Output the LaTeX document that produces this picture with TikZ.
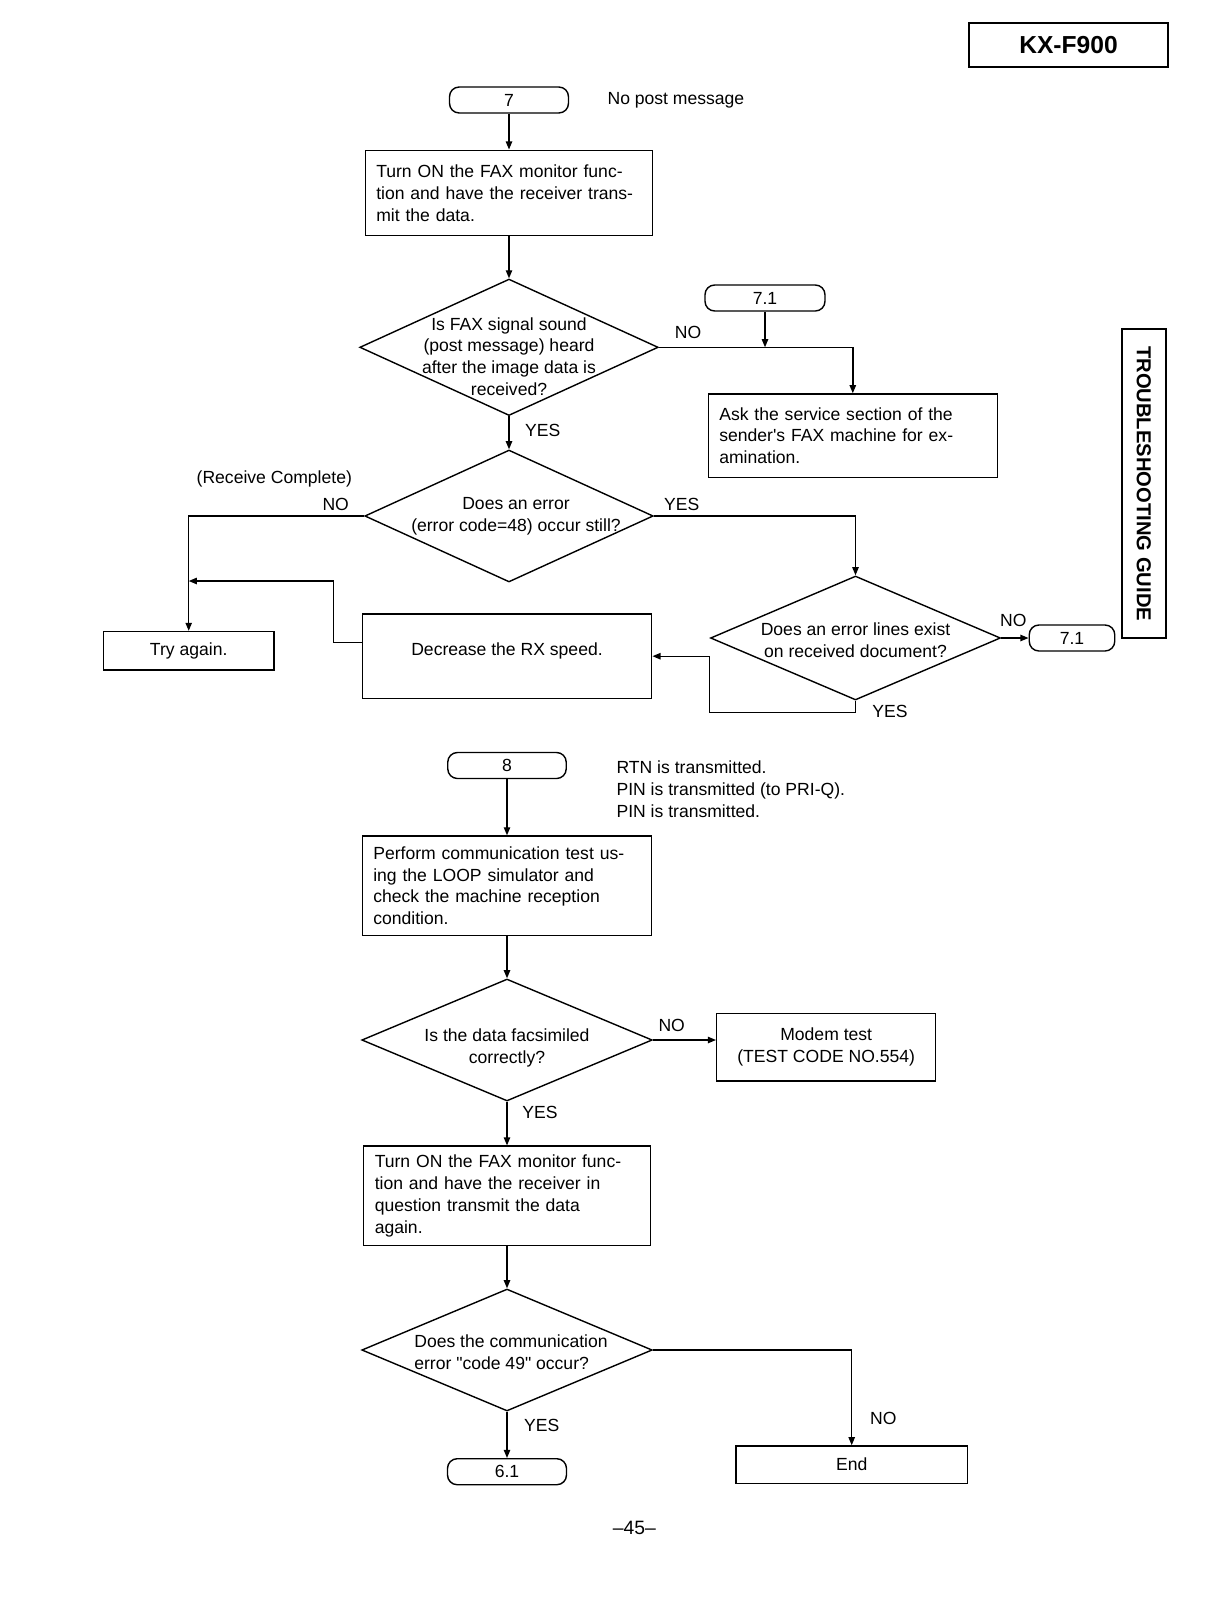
\documentclass[tikz,border=0pt]{standalone}
\usepackage{fontspec}
\setmainfont{Liberation Sans}
\usepackage{tikz}
\usetikzlibrary{calc,shapes.geometric,arrows.meta}

\newcommand{\dtext}[3][2.5pt]{\makebox[0pt]{\hspace{#2}\raisebox{-#1}[0pt][0pt]{\begin{tabular}{@{}c@{}}#3\end{tabular}}}}
\newcommand{\ltext}[3][2.5pt]{\makebox[0pt]{\hspace{#2}\raisebox{-#1}[0pt][0pt]{\begin{tabular}{@{}l@{}}#3\end{tabular}}}}

\begin{document}
\begin{tikzpicture}[x=0.02cm,y=-0.02cm,line width=0.8pt,
    every node/.style={font=\fontsize{10}{12.4}\selectfont},
    >={Triangle[length=4.6pt,width=3.6pt]},
    term/.style={draw,rounded corners=5.5pt,minimum height=0.52cm,inner sep=0pt},
    proc/.style={draw,align=left,inner xsep=0.22cm,inner ysep=0pt},
    plain/.style={draw,align=center,inner sep=0pt},
    decision/.style={draw,diamond,inner sep=0pt}]
  \useasboundingbox (0,0) rectangle (1216,1612);
  \fill[white] (0,0) rectangle (1216,1612);

  \node[draw,line width=1pt,minimum width=3.97cm,minimum height=0.88cm,
    font=\bfseries\fontsize{14}{16}\selectfont] (model) at (1068.5,44.7) {KX-F900};
  \node[draw,line width=1pt,rotate=-90,minimum width=6.19cm,minimum height=0.88cm,
    font=\bfseries\fontsize{11.5}{13}\selectfont] (guide) at (1143.7,483.6) {TROUBLESHOOTING GUIDE};

  \node[term,minimum width=2.38cm] (t7) at (509,100) {7};
  \node[anchor=west] (nopost) at (601,100) {No post message};
  \node[proc,text width=5.31cm,minimum height=1.71cm] (b1) at (509,193)
    {Turn ON the FAX monitor func-\\tion and have the receiver trans-\\mit the data.};
  \node[decision,minimum width=5.97cm,minimum height=2.73cm] (d1) at (509,347.3)
    {\dtext[8.8pt]{0pt}{Is FAX signal sound\\(post message) heard\\after the image data is\\received?}};
  \node[term,minimum width=2.4cm] (t71a) at (765,298) {7.1};
  \node[proc,text width=5.34cm,minimum height=1.67cm] (ask) at (852.8,435.7)
    {Ask the service section of the\\sender\textquotesingle s FAX machine for ex-\\amination.};
  \node[decision,minimum width=5.77cm,minimum height=2.64cm] (d2) at (509,516)
    {\dtext{0.28cm}{Does an error\\(error code=48) occur still?}};
  \node (rc) at (274.3,479) {(Receive Complete)};
  \node[plain,minimum width=3.41cm,minimum height=0.77cm] (try) at (188.7,650.8) {Try again.};
  \node[plain,minimum width=5.79cm,minimum height=1.69cm,text depth=7.5pt] (dec) at (507,656.2)
    {Decrease the RX speed.};
  \node[decision,minimum width=5.8cm,minimum height=2.48cm] (d3) at (855.5,638)
    {\dtext[4.8pt]{0pt}{Does an error lines exist\\on received document?}};
  \node[term,minimum width=1.71cm] (t71b) at (1072,638) {7.1};

  \draw[->] (t7) -- (b1);
  \draw[->] (b1) -- (d1);
  \draw[->] (d1.east) -| (ask.north);
  \coordinate (j1) at (t71a.south |- d1.east);
  \draw[->] (t71a) -- (j1);
  \node (no1) at (688,332) {NO};
  \draw[->] (d1) -- (d2);
  \node (yes1) at (542.7,430.7) {YES};
  \draw[->] (d2.west) -| (try.north);
  \node (no2) at (335.7,504.3) {NO};
  \coordinate (j2) at (try.north |- 0,581);
  \draw[->] ($(dec.west)+(0,-14)$) -- ++(-28,0) |- (j2);
  \draw[->] (d2.east) -| (d3.north);
  \node (yes2) at (681.7,504.3) {YES};
  \draw[->] (d3.east) -- (t71b.west);
  \node (no3) at (1013.3,620) {NO};
  \draw[->] (d3.south) -- ++(0,12) -| ($(dec.east)+(57,0)$) -- (dec.east);
  \node (yes3) at (890,711.7) {YES};

  \node[term,minimum width=2.37cm] (t8) at (507,765.5) {8};
  \node[anchor=west,align=left] (rtn) at (610,789.4)
    {RTN is transmitted.\\PIN is transmitted (to PRI-Q).\\PIN is transmitted.};
  \node[proc,text width=5.35cm,minimum height=1.99cm] (b4) at (507,885.8)
    {Perform communication test us-\\ing the LOOP simulator and\\check the machine reception\\condition.};
  \node[decision,minimum width=5.81cm,minimum height=2.44cm] (d4) at (507,1040)
    {\dtext[7.2pt]{0pt}{Is the data facsimiled\\correctly?}};
  \node[plain,minimum width=4.38cm,minimum height=1.35cm] (modem) at (826.2,1047.2)
    {Modem test\\(TEST CODE NO.554)};
  \node[proc,text width=5.29cm,minimum height=1.99cm] (b5) at (507,1195.9)
    {Turn ON the FAX monitor func-\\tion and have the receiver in\\question transmit the data\\again.};
  \node[decision,minimum width=5.81cm,minimum height=2.44cm] (d5) at (507,1350)
    {\ltext[4.8pt]{0.16cm}{Does the communication\\error \textquotedbl code 49\textquotedbl\ occur?}};
  \node[term,minimum width=2.38cm] (t61) at (507,1471.7) {6.1};
  \node[plain,minimum width=4.63cm,minimum height=0.75cm] (end) at (851.7,1464.7) {End};
  \node[font=\fontsize{11}{13}\selectfont] (page) at (634.3,1528.3) {--45--};

  \draw[->] (t8) -- (b4);
  \draw[->] (b4) -- (d4);
  \draw[->] (d4.east) -- (d4.east -| modem.west);
  \node (no4) at (671.7,1025) {NO};
  \draw[->] (d4) -- (b5);
  \node (yes4) at (540,1112.7) {YES};
  \draw[->] (b5) -- (d5);
  \draw[->] (d5) -- (t61);
  \node (yes5) at (541.7,1425.7) {YES};
  \draw[->] (d5.east) -| (end.north);
  \node (no5) at (883.3,1418.3) {NO};
\end{tikzpicture}
\end{document}
